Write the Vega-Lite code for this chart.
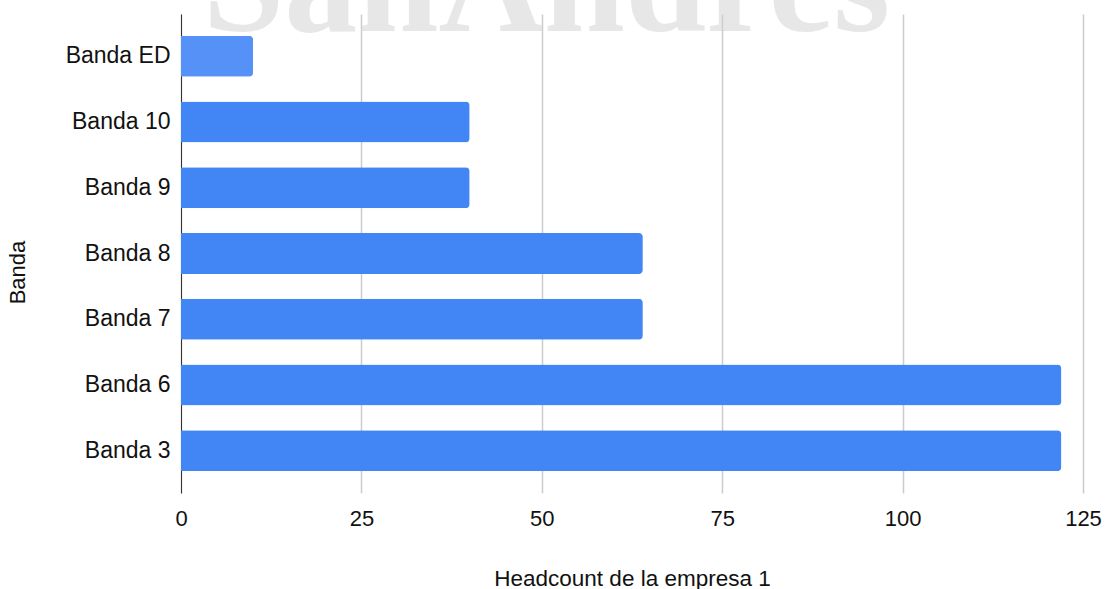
{
  "$schema": "https://vega.github.io/schema/vega-lite/v6.json",
  "width": 902,
  "height": 479,
  "autosize": {"type": "none"},
  "padding": {"left": 181, "top": 14, "right": 24, "bottom": 96},
  "background": "white",
  "config": {
    "view": {"stroke": null},
    "font": "Liberation Sans"
  },
  "layer": [
    {
      "data": {"values": [{"Banda": "Banda ED", "Headcount": 10}, {"Banda": "Banda 10", "Headcount": 40}, {"Banda": "Banda 9", "Headcount": 40}, {"Banda": "Banda 8", "Headcount": 64}, {"Banda": "Banda 7", "Headcount": 64}, {"Banda": "Banda 6", "Headcount": 122}, {"Banda": "Banda 3", "Headcount": 122}]},
      "mark": {"type": "bar", "cornerRadiusEnd": 4},
      "encoding": {
        "y": {
          "field": "Banda", "type": "nominal", "sort": null,
          "scale": {"paddingInner": 0.377, "paddingOuter": 0.33},
          "axis": {
            "title": "Banda", "titleFont": "Liberation Sans", "titleFontSize": 22, "titleFontWeight": "normal", "titleColor": "#111",
            "titleX": -157, "titleY": 258, "titleBaseline": "alphabetic", "titleAngle": -90,
            "labelFont": "Liberation Sans", "labelFontSize": 23, "labelColor": "#111", "labelPadding": 11,
            "ticks": false, "domainColor": "#333", "domainWidth": 1, "grid": false
          }
        },
        "x": {
          "field": "Headcount", "type": "quantitative",
          "scale": {"domain": [0, 125], "nice": false},
          "axis": {
            "title": "Headcount de la empresa 1", "titleFont": "Liberation Sans", "titleFontSize": 22.5, "titleFontWeight": "normal", "titleColor": "#111",
            "titleY": 92, "titleBaseline": "alphabetic",
            "values": [0, 25, 50, 75, 100, 125],
            "labelFont": "Liberation Sans", "labelFontSize": 22, "labelColor": "#111", "labelPadding": 15, "labelFlush": false,
            "ticks": false, "domain": false, "grid": true, "gridColor": "#cccccc", "gridWidth": 1.5
          }
        },
        "color": {
          "condition": {"test": "datum.Banda === 'Banda ED'", "value": "#5591f6"},
          "value": "#4285f4"
        }
      }
    },
    {
      "data": {"values": [{"t": "SanAndres"}]},
      "mark": {"type": "text", "font": "Liberation Serif", "fontWeight": "bold", "fontSize": 146, "color": "#d0d0d0", "opacity": 0.5, "align": "center", "baseline": "alphabetic", "dy": -25},
      "encoding": {
        "x": {"datum": 50.65, "type": "quantitative"},
        "y": {"datum": "Banda ED", "type": "nominal"},
        "text": {"field": "t"}
      }
    }
  ]
}
